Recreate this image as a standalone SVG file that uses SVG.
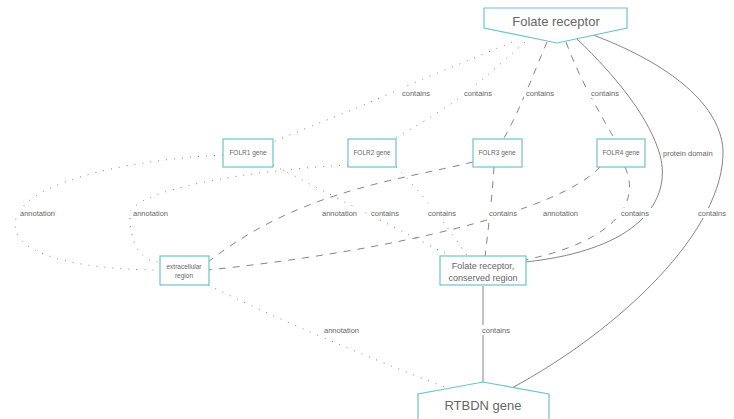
<svg xmlns="http://www.w3.org/2000/svg" width="734" height="419" viewBox="0 0 734 419">
<style>
.box{fill:#fff;stroke:#6cc5cc;stroke-width:1.2}
.e{fill:none;stroke:#666;stroke-width:0.8}
.dot{stroke-dasharray:1,7}
.dash{stroke-dasharray:7,7}
text{font-family:"Liberation Sans",Arial,sans-serif;fill:#666}
.lbl{font-size:7.5px}
.n{font-size:6.5px;text-anchor:middle}
.m{font-size:9px;text-anchor:middle}
.big{font-size:13px;text-anchor:middle}
</style>
<rect width="734" height="419" fill="#fff"/>
<g id="edges">
<path class="e dot" d="M512,42 C470,60 420,80 402,88 C350,112 300,130 273,142"/>
<path class="e dot" d="M525,42 C500,65 470,90 462,96 C440,112 410,130 395,138"/>
<path class="e dash" d="M547,42 C535,70 520,110 504,138"/>
<path class="e dash" d="M566,42 C580,80 598,110 614,138"/>
<path class="e" d="M576,38 C620,80 650,120 660,155 C672,200 640,250 525,262"/>
<path class="e" d="M593,35 C660,60 720,100 723,150 C725,230 620,330 510,389"/>
<path class="e dot" d="M223,155 C120,160 15,185 15,225 C15,260 100,270 160,270"/>
<path class="e dot" d="M348,165 C250,170 130,190 130,215 C130,250 145,262 160,262"/>
<path class="e dash" d="M473,162 C400,180 300,190 208,262"/>
<path class="e dash" d="M600,167 C560,210 400,250 208,270"/>
<path class="e dot" d="M273,165 C340,200 400,230 452,257"/>
<path class="e dot" d="M396,167 C420,190 450,230 468,257"/>
<path class="e dash" d="M494,167 C492,200 488,230 485,257"/>
<path class="e dash" d="M625,167 C640,200 620,240 525,260"/>
<path class="e dot" d="M208,285 C300,330 400,370 450,389"/>
<path class="e" d="M483,286 L483,382"/>
</g>
<g id="edge-labels">
<rect x="400" y="88" width="32" height="10" fill="#fff"/>
<text class="lbl" x="402" y="96">contains</text>
<rect x="462" y="88" width="32" height="10" fill="#fff"/>
<text class="lbl" x="464" y="96">contains</text>
<rect x="524" y="88" width="32" height="10" fill="#fff"/>
<text class="lbl" x="526" y="96">contains</text>
<rect x="589" y="88" width="32" height="10" fill="#fff"/>
<text class="lbl" x="591" y="96">contains</text>
<rect x="661" y="148" width="57" height="10" fill="#fff"/>
<text class="lbl" x="663" y="156">protein domain</text>
<rect x="696" y="208" width="34" height="10" fill="#fff"/>
<text class="lbl" x="698" y="216">contains</text>
<rect x="18" y="208" width="42" height="10" fill="#fff"/>
<text class="lbl" x="20" y="216">annotation</text>
<rect x="131" y="208" width="42" height="10" fill="#fff"/>
<text class="lbl" x="133" y="216">annotation</text>
<rect x="320" y="208" width="42" height="10" fill="#fff"/>
<text class="lbl" x="322" y="216">annotation</text>
<rect x="541" y="208" width="42" height="10" fill="#fff"/>
<text class="lbl" x="543" y="216">annotation</text>
<rect x="369" y="208" width="34" height="10" fill="#fff"/>
<text class="lbl" x="371" y="216">contains</text>
<rect x="426" y="208" width="34" height="10" fill="#fff"/>
<text class="lbl" x="428" y="216">contains</text>
<rect x="487" y="208" width="34" height="10" fill="#fff"/>
<text class="lbl" x="489" y="216">contains</text>
<rect x="619" y="208" width="34" height="10" fill="#fff"/>
<text class="lbl" x="621" y="216">contains</text>
<rect x="322" y="325" width="42" height="10" fill="#fff"/>
<text class="lbl" x="324" y="333">annotation</text>
<rect x="480" y="325" width="34" height="10" fill="#fff"/>
<text class="lbl" x="482" y="333">contains</text>
</g>
<g id="folate-receptor">
<path class="box" d="M484,8 L627,8 L627,28 L557,43 L484,28 Z"/>
<text class="big" x="556" y="26">Folate receptor</text>
</g>
<g id="folr1">
<rect class="box" x="223" y="139" width="50" height="28"/>
<text class="n" x="248" y="155">FOLR1 gene</text>
</g>
<g id="folr2">
<rect class="box" x="348" y="139" width="48" height="28"/>
<text class="n" x="372" y="155">FOLR2 gene</text>
</g>
<g id="folr3">
<rect class="box" x="473" y="139" width="49" height="28"/>
<text class="n" x="497" y="155">FOLR3 gene</text>
</g>
<g id="folr4">
<rect class="box" x="597" y="139" width="48" height="28"/>
<text class="n" x="621" y="155">FOLR4 gene</text>
</g>
<g id="extracellular">
<rect class="box" x="160" y="256" width="49" height="29"/>
<text class="n" x="184" y="269">extracellular</text>
<text class="n" x="184" y="278">region</text>
</g>
<g id="conserved">
<rect class="box" x="440" y="256" width="86" height="29"/>
<text class="m" x="483" y="269">Folate receptor,</text>
<text class="m" x="483" y="281">conserved region</text>
</g>
<g id="rtbdn">
<path class="box" d="M418,419 L418,394 L483,382 L549,394 L549,419"/>
<text class="big" x="483" y="410">RTBDN gene</text>
</g>
</svg>
